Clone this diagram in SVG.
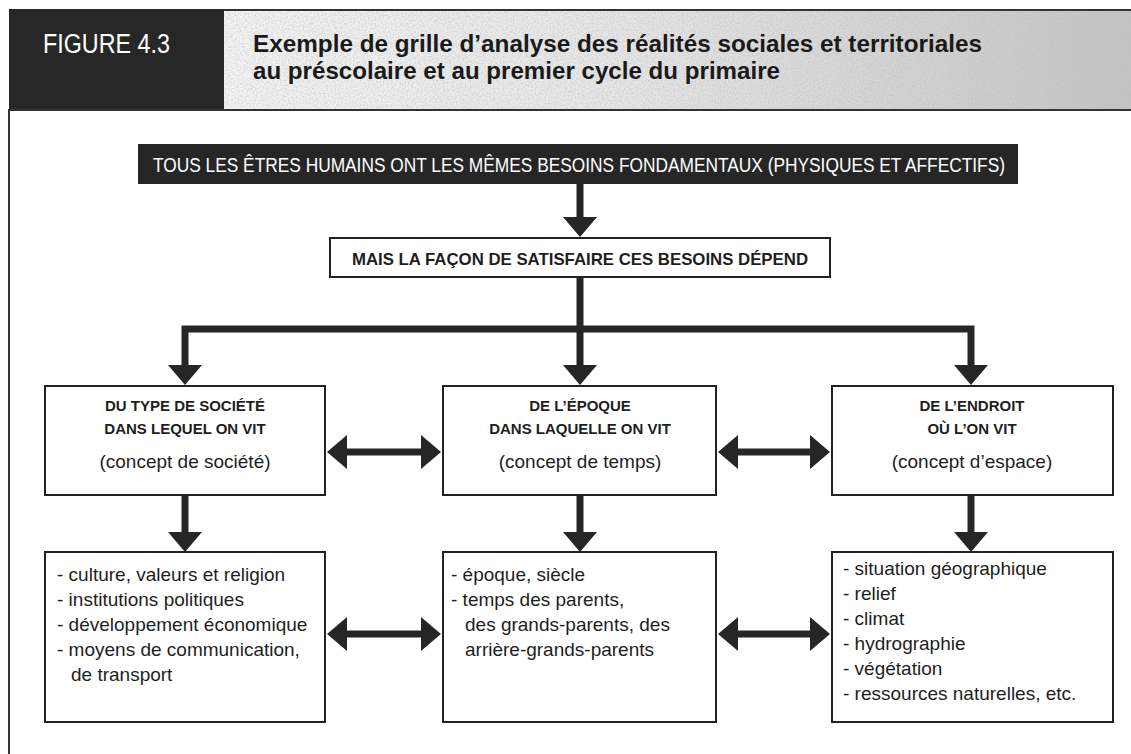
<svg xmlns="http://www.w3.org/2000/svg" width="1131" height="754" viewBox="0 0 1131 754">
<defs>
<style>
.box{fill:#fff;stroke:#222;stroke-width:2}
.con{fill:none;stroke:#262626;stroke-width:7;stroke-linejoin:miter}
.cap{font-family:"Liberation Sans","DejaVu Sans",sans-serif;font-weight:bold;font-size:15px;fill:#1e1e1e;text-anchor:middle}
.reg{font-family:"Liberation Sans","DejaVu Sans",sans-serif;font-size:19px;fill:#1e1e1e}
.mid{text-anchor:middle}
.ttl{font-family:"Liberation Sans","DejaVu Sans",sans-serif;font-weight:bold;font-size:24px;fill:#1a1a1a}
</style>
<marker id="ah" viewBox="0 0 20 34" refX="10" refY="17" markerWidth="20" markerHeight="34" markerUnits="userSpaceOnUse" orient="auto-start-reverse">
<path d="M0,0 L20,17 L0,34 z" fill="#262626"/>
</marker>
<linearGradient id="tg" x1="0" y1="0" x2="1" y2="0">
<stop offset="0" stop-color="#f4f4f4"/>
<stop offset="0.45" stop-color="#e6e6e6"/>
<stop offset="1" stop-color="#c4c4c4"/>
</linearGradient>
<filter id="noise" x="0" y="0" width="1" height="1">
<feTurbulence type="fractalNoise" baseFrequency="0.6" numOctaves="2" seed="3" result="t"/>
<feColorMatrix in="t" type="matrix" values="0 0 0 0 0.5  0 0 0 0 0.5  0 0 0 0 0.5  0 0 0 -1.2 0.75" result="n"/>
<feComposite in="n" in2="SourceGraphic" operator="in" result="nn"/>
<feMerge><feMergeNode in="SourceGraphic"/><feMergeNode in="nn"/></feMerge>
</filter>
</defs>
<rect width="1131" height="754" fill="#fff"/>

<g id="header">
<rect x="9" y="9" width="215" height="100" fill="#272727"/>
<text transform="scale(0.84,1)" x="51.2" y="53" font-family="'Liberation Sans','DejaVu Sans',sans-serif" font-size="28" fill="#fff" textLength="151.2" lengthAdjust="spacingAndGlyphs">FIGURE 4.3</text>
<rect x="224" y="10" width="907" height="100" fill="url(#tg)" filter="url(#noise)"/>
<line x1="224" y1="10" x2="1131" y2="10" stroke="#333" stroke-width="2"/>
<line x1="224" y1="110" x2="1131" y2="110" stroke="#333" stroke-width="2"/>
<text class="ttl" x="253" y="52" textLength="729" lengthAdjust="spacingAndGlyphs">Exemple de grille d’analyse des réalités sociales et territoriales</text>
<text class="ttl" x="253" y="79" textLength="527" lengthAdjust="spacingAndGlyphs">au préscolaire et au premier cycle du primaire</text>
</g>

<g id="frame">
<path d="M9,109 V754" fill="none" stroke="#333" stroke-width="2"/>
<line x1="9" y1="110" x2="224" y2="110" stroke="#333" stroke-width="2"/>
</g>

<g id="connectors">
<path class="con" d="M580,184 V227" marker-end="url(#ah)"/>
<path class="con" d="M580,277 V375" marker-end="url(#ah)"/>
<path class="con" d="M185,375 V329 H971 V375" marker-start="url(#ah)" marker-end="url(#ah)"/>
<path class="con" d="M185,495 V542" marker-end="url(#ah)"/>
<path class="con" d="M580,495 V542" marker-end="url(#ah)"/>
<path class="con" d="M971,495 V542" marker-end="url(#ah)"/>
<path class="con" d="M337,452 H431" marker-start="url(#ah)" marker-end="url(#ah)"/>
<path class="con" d="M728,452 H820" marker-start="url(#ah)" marker-end="url(#ah)"/>
<path class="con" d="M337,634 H431" marker-start="url(#ah)" marker-end="url(#ah)"/>
<path class="con" d="M728,634 H820" marker-start="url(#ah)" marker-end="url(#ah)"/>
</g>

<g id="n-besoins">
<rect x="138" y="144" width="880" height="40" fill="#262626"/>
<text transform="scale(0.79,1)" x="732.9" y="172" font-family="'Liberation Sans','DejaVu Sans',sans-serif" font-size="21" fill="#fff" text-anchor="middle" textLength="1078.5" lengthAdjust="spacingAndGlyphs">TOUS LES ÊTRES HUMAINS ONT LES MÊMES BESOINS FONDAMENTAUX (PHYSIQUES ET AFFECTIFS)</text>
</g>

<g id="n-depend">
<rect class="box" x="330" y="238" width="500" height="39"/>
<text x="580" y="265" font-family="'Liberation Sans','DejaVu Sans',sans-serif" font-weight="bold" font-size="17" fill="#1e1e1e" text-anchor="middle" textLength="456" lengthAdjust="spacingAndGlyphs">MAIS LA FAÇON DE SATISFAIRE CES BESOINS DÉPEND</text>
</g>

<g id="n-societe">
<rect class="box" x="45" y="386" width="280" height="109"/>
<text class="cap" x="185" y="411">DU TYPE DE SOCIÉTÉ</text>
<text class="cap" x="185" y="434">DANS LEQUEL ON VIT</text>
<text class="reg mid" x="185" y="468">(concept de société)</text>
</g>

<g id="n-epoque">
<rect class="box" x="443" y="386" width="273" height="109"/>
<text class="cap" x="580" y="411">DE L’ÉPOQUE</text>
<text class="cap" x="580" y="434">DANS LAQUELLE ON VIT</text>
<text class="reg mid" x="580" y="468">(concept de temps)</text>
</g>

<g id="n-endroit">
<rect class="box" x="832" y="386" width="281" height="109"/>
<text class="cap" x="972" y="411">DE L’ENDROIT</text>
<text class="cap" x="972" y="434">OÙ L’ON VIT</text>
<text class="reg mid" x="972" y="468">(concept d’espace)</text>
</g>

<g id="n-societe-list">
<rect class="box" x="45" y="552" width="280" height="170"/>
<text class="reg" x="57" y="581">- culture, valeurs et religion</text>
<text class="reg" x="57" y="606">- institutions politiques</text>
<text class="reg" x="57" y="631">- développement économique</text>
<text class="reg" x="57" y="656">- moyens de communication,</text>
<text class="reg" x="71" y="681">de transport</text>
</g>

<g id="n-epoque-list">
<rect class="box" x="443" y="552" width="273" height="170"/>
<text class="reg" x="451" y="581">- époque, siècle</text>
<text class="reg" x="451" y="606">- temps des parents,</text>
<text class="reg" x="465" y="631">des grands-parents, des</text>
<text class="reg" x="465" y="656">arrière-grands-parents</text>
</g>

<g id="n-endroit-list">
<rect class="box" x="832" y="552" width="281" height="170"/>
<text class="reg" x="843" y="575">- situation géographique</text>
<text class="reg" x="843" y="600">- relief</text>
<text class="reg" x="843" y="625">- climat</text>
<text class="reg" x="843" y="650">- hydrographie</text>
<text class="reg" x="843" y="675">- végétation</text>
<text class="reg" x="843" y="700">- ressources naturelles, etc.</text>
</g>
</svg>
